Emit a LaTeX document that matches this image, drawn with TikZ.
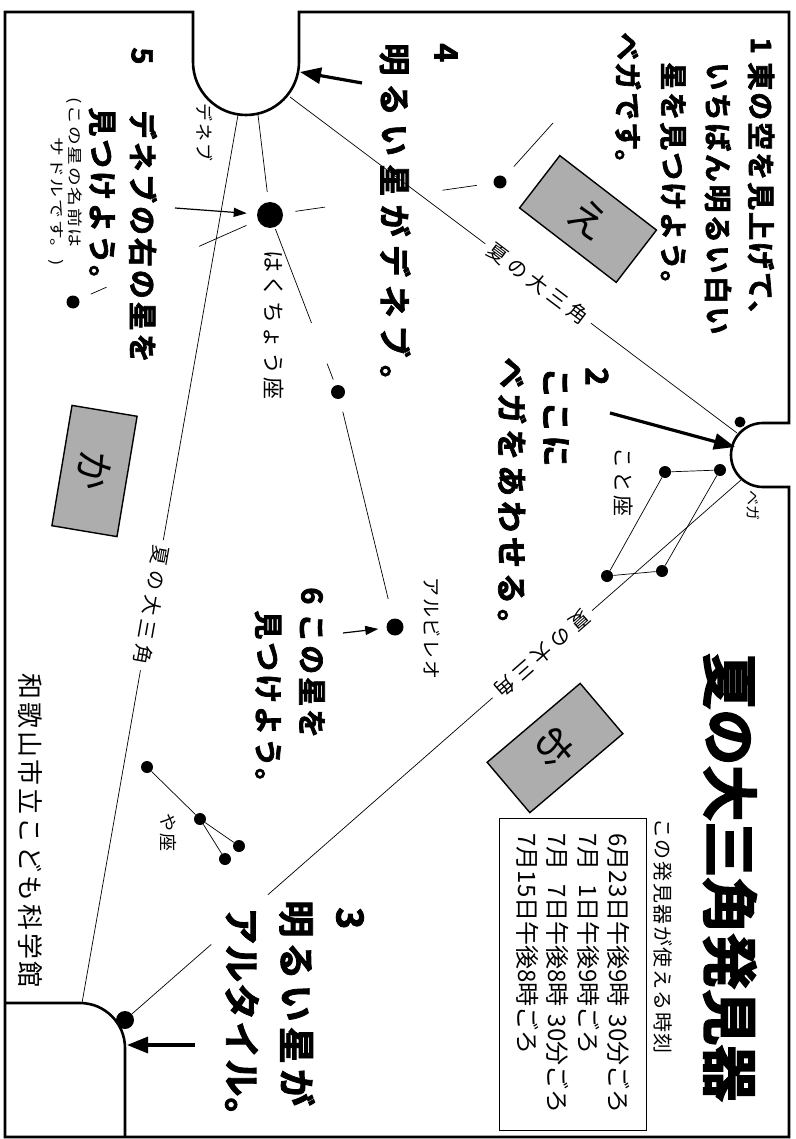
\documentclass[tikz,border=0pt]{standalone}
\usepackage{fontspec}
\newfontfamily\jp{Noto Sans CJK JP}
\newfontfamily\jpn[FakeStretch=1.25]{Noto Sans CJK JP}
\newfontfamily\jpb[FakeBold=2.3]{Noto Sans CJK JP Bold}
\newfontfamily\jpbb[FakeBold=3]{Noto Sans CJK JP Bold}
\newcommand{\bigjp}[2]{\jpb\fontsize{#1}{#1}\selectfont\addfontfeatures{LetterSpace=#2}}
\newcommand{\smjp}[2]{\jp\fontsize{#1}{#1}\selectfont\addfontfeatures{LetterSpace=#2}}
\usetikzlibrary{arrows.meta,calc}
\begin{document}
\begin{tikzpicture}[x=1pt, y=-1pt, line width=.7pt,
  txt/.style={rotate=-90, anchor=west, inner sep=0pt},
  dot/.style={circle, fill, inner sep=0pt, minimum size=#1},
  tab/.style={draw, line width=1.4pt, fill=black!32, minimum width=122pt, minimum height=66pt, inner sep=0pt, font=\jp\fontsize{40}{40}\selectfont},
  tri/.style={sloped, allow upside down, fill=white, inner xsep=6pt, inner ysep=1pt, font={\smjp{20}{25}}},
  fat/.style={line width=3.2pt, -{Triangle[length=21pt,width=16pt]}},
  slim/.style={line width=1.2pt, -{Triangle[length=13pt,width=9pt]}}]
\useasboundingbox (0,0) rectangle (795,1139);
\fill[white] (0,0) rectangle (795,1139);
\draw[line width=2.6pt] (5,12) -- (193,12) -- (193,62) arc[start angle=180, end angle=360, radius=53pt] -- (299,12) -- (789,12) -- (789,423) -- (763,423) arc[start angle=90, end angle=270, radius=32pt] -- (789,487) -- (789,1137) -- (5,1137) -- cycle;
\draw[line width=2.6pt] (5,1003) -- (80,1003) arc[start angle=90, end angle=0, radius=45pt] -- (125,1137);

\coordinate (denA) at (238,115);
\coordinate (denB) at (258,115);
\coordinate (denC) at (290,97);
\coordinate (vegA) at (737,433);
\coordinate (vegB) at (741,480);
\coordinate (altA) at (82,1003);
\node[dot=18pt] (altair) at (125,1020) {};

\node[dot=26pt] (sadr) at (270,215) {};
\node[dot=13pt] (wingR) at (500,182) {};
\node[dot=13pt] (wingL) at (73,302) {};
\node[dot=14pt] (neck) at (338,392) {};
\node[dot=17pt] (albireo) at (395,627) {};
\coordinate (wingE) at (553,123);

\node[dot=12pt] (lyZ) at (720,470) {};
\node[dot=12pt] (lyD) at (665,472) {};
\node[dot=12pt] (lyG) at (607,576) {};
\node[dot=12pt] (lyB) at (662,571) {};
\node[dot=11pt] (lyE) at (740,422) {};

\node[dot=12pt] (sgA) at (147,767) {};
\node[dot=12pt] (sgB) at (200,819) {};
\node[dot=12pt] (sgC) at (239,846) {};
\node[dot=12pt] (sgD) at (225,859) {};

\draw (denC) -- node[tri, pos=.555] (sdv) {夏の大三角} (vegA);
\draw (denA) -- node[tri, pos=.552] (sda) {夏の大三角} (altA);
\draw (vegB) -- node[tri, pos=.42] (sva) {夏の大三角} ($(vegB)!.768!(altair)$);
\draw ($(vegB)!.86!(altair)$) -- (altair);

\draw[shorten >=10pt] (denB) -- (sadr);
\draw ($(sadr)!.11!(wingR)$) -- ($(sadr)!.24!(wingR)$) ($(sadr)!.75!(wingR)$) -- ($(sadr)!.9!(wingR)$);
\draw[shorten <=14pt] (wingR) -- (wingE);
\draw ($(sadr)!.12!(wingL)$) -- ($(sadr)!.36!(wingL)$) ($(sadr)!.83!(wingL)$) -- ($(sadr)!.91!(wingL)$);
\draw ($(sadr)!.08!(neck)$) -- ($(sadr)!.61!(neck)$) ($(sadr)!.84!(neck)$) -- ($(sadr)!.93!(neck)$);
\draw[shorten <=13pt, shorten >=20pt] (neck) -- (albireo);
\draw (lyZ) -- (lyD) -- (lyG) -- (lyB) -- (lyZ);
\draw (sgA) -- (sgB) -- (sgC) (sgB) -- (sgD);

\node[tab, rotate=-37.6] (tabE) at (588,219) {え};
\node[tab, rotate=-139.7] (tabO) at (555,748) {お};
\node[tab, rotate=-99.5] (tabKa) at (94.5,471) {か};

\node[txt, font={\smjp{18}{11}}] (lbDeneb) at (205,103) {デネブ};
\node[txt, font={\smjp{22}{16}}] (lbCyg) at (274,250) {はくちょう座};
\node[txt, font={\smjp{21}{14}}] (lbLyr) at (624,447) {こと座};
\node[txt, font={\smjp{15}{0}}] (lbVega) at (753,490) {ベガ};
\node[txt, font={\smjp{19}{10}}] (lbAlb) at (432,577) {アルビレオ};
\node[txt, font={\smjp{18}{10}}] (lbSge) at (168,813) {や座};
\node[txt, font={\smjp{26}{11}}] (lbMus) at (30,673) {和歌山市立こども科学館};

\node[txt, font={\bigjp{28}{7}}] (n1) at (761,37) {1};
\node[txt, font={\bigjp{28}{7}}] (s1a) at (761,62) {東の空を見上げて、};
\node[txt, font={\bigjp{28}{9}}] (s1b) at (718,62) {いちばん明るい白い};
\node[txt, font={\bigjp{28}{7}}] (s1c) at (673,62) {星を見つけよう。};
\node[txt, font={\bigjp{28}{7}}] (s1d) at (628,32) {ベガです。};

\node[txt, font={\bigjp{32}{26}}] (n4) at (446,43) {4};
\node[txt, font={\bigjp{32}{26}}] (s4) at (395,43) {明るい星がデネブ。};

\node[txt, font={\bigjp{31}{16}}] (n2) at (597,367) {2};
\node[txt, font={\bigjp{31}{10}}] (s2a) at (556,367) {ここに};
\node[txt, font={\bigjp{31}{16}}] (s2b) at (512,357) {ベガをあわせる。};

\node[txt, font={\bigjp{37}{6}}] (n3) at (350,907) {3};
\node[txt, font={\bigjp{37}{14}}] (s3a) at (297,900) {明るい星が};
\node[txt, font={\bigjp{37}{3}}] (s3b) at (242,907) {アルタイル。};

\node[txt, font={\bigjp{29}{10}}] (n5) at (142,47) {5};
\node[txt, font={\bigjp{29}{10}}] (s5a) at (143,110) {デネブの右の星を};
\node[txt, font={\bigjp{29}{10}}] (s5b) at (102,107) {見つけよう。};
\node[txt, font=\jpn\fontsize{15}{15}\selectfont\addfontfeatures{LetterSpace=12}] (s5c) at (74,97) {(この星の名前は};
\node[txt, anchor=east, font=\jpn\fontsize{15}{15}\selectfont\addfontfeatures{LetterSpace=12}] (s5d) at (56,266) {サドルです。)};

\node[txt, font={\bigjp{29}{10}}] (n6) at (312,587) {6};
\node[txt, font={\bigjp{29}{10}}] (s6a) at (312,613) {この星を};
\node[txt, font={\bigjp{29}{10}}] (s6b) at (268,610) {見つけよう。};

\node[txt, font=\jpbb\fontsize{56}{56}\selectfont] (title) at (730,653) {夏の大三角発見器};
\node[txt, font={\smjp{20}{8}}] (sub) at (663,818) {この発見器が使える時刻};
\node[draw, line width=1pt, rotate=-90, anchor=north west, minimum height=147pt, inner xsep=15pt, text width=282pt, align=left, font=\jp\fontsize{24}{30.5}\selectfont] (times) at (647,818) {6月23日午後9時 30分ごろ\\7月\phantom{2}1日午後9時ごろ\\7月\phantom{2}7日午後8時 30分ごろ\\7月15日午後8時ごろ};

\coordinate (t4) at (362,83);
\coordinate (h4) at (300,72);
\coordinate (t2) at (610,413);
\coordinate (h2) at (735,447);
\coordinate (t3) at (195,1045);
\coordinate (h3) at (127,1045);
\coordinate (t5) at (175,208);
\coordinate (t6) at (343,633);
\draw[fat] (t4) -- (h4);
\draw[fat] (t2) -- (h2);
\draw[fat] (t3) -- (h3);
\draw[slim, shorten >=10pt] (t5) -- (sadr);
\draw[slim, shorten >=8pt] (t6) -- (albireo);
\end{tikzpicture}
\end{document}
